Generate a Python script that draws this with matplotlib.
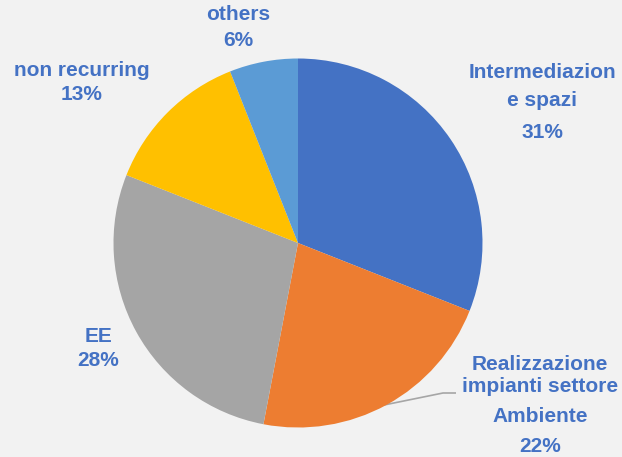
import matplotlib
matplotlib.use("Agg")
import matplotlib.pyplot as plt

categories = ["Intermediazion\ne spazi", "Realizzazione\nimpianti settore\nAmbiente", "EE", "non recurring", "others"]
values = [31, 22, 28, 13, 6]
colors = ["#4472C4", "#ED7D31", "#A5A5A5", "#FFC000", "#5B9BD5"]

W, H = 622, 457
fig = plt.figure(figsize=(W / 100, H / 100), dpi=100, facecolor="#F2F2F2")
ax = fig.add_axes([0, 0, 1, 1])
ax.set_facecolor("#F2F2F2")

cx, cy, r = 298, H - 243, 184.5
ax.pie(values, colors=colors, startangle=90, counterclock=False,
       center=(cx, cy), radius=r, wedgeprops=dict(linewidth=0, zorder=2),
       frame=True)
ax.set_xlim(0, W)
ax.set_ylim(0, H)
ax.set_aspect("equal")
ax.axis("off")

tc = "#4472C4"
font = dict(family=["Liberation Sans", "DejaVu Sans"], fontweight="bold", fontsize=15, color=tc,
            ha="center", va="center")

def label_lines(lines, x, ys):
    for line, y in zip(lines, ys):
        ax.text(x, H - y, line, **font)

# label positions (pixels, top-origin) per slice
pos = [
    (542, [72, 101, 132]),
    (540, [364, 387, 416, 446]),
    (98, [336, 361]),
    (82, [70, 94]),
    (238, [15, 40]),
]
for cat, v, (x, ys) in zip(categories, values, pos):
    lines = cat.split("\n") + [f"{v}%"]
    label_lines(lines, x, ys)

# leader line for Realizzazione label
ax.plot([384, 443, 456], [H - 405, H - 393, H - 393], color="#A6A6A6", lw=1.2,
        solid_capstyle="butt", zorder=1)

fig.savefig("out.png", dpi=100, facecolor=fig.get_facecolor())
